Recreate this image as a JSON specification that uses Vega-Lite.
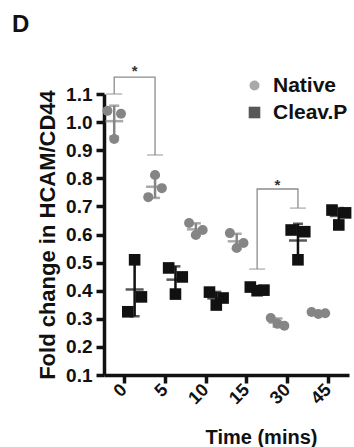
{
  "$schema": "https://vega.github.io/schema/vega-lite/v6.json",
  "width": 245,
  "height": 281,
  "autosize": {"type": "none"},
  "padding": {"left": 104, "top": 94, "right": 5, "bottom": 72},
  "background": "white",
  "title": {"text": "D", "anchor": "start", "frame": "group", "fontSize": 24, "font": "Liberation Sans", "fontWeight": "bold", "color": "#111111", "dx": -92, "offset": 8, "baseline": "alphabetic"},
  "config": {"view": {"stroke": null}, "font": "Liberation Sans"},
  "datasets": {
    "pts": [
      {"time": "0", "series": "Native", "rep": 1, "value": 1.04},
      {"time": "0", "series": "Native", "rep": 2, "value": 0.94},
      {"time": "0", "series": "Native", "rep": 3, "value": 1.03},
      {"time": "5", "series": "Native", "rep": 1, "value": 0.733},
      {"time": "5", "series": "Native", "rep": 2, "value": 0.812},
      {"time": "5", "series": "Native", "rep": 3, "value": 0.765},
      {"time": "10", "series": "Native", "rep": 1, "value": 0.641},
      {"time": "10", "series": "Native", "rep": 2, "value": 0.598},
      {"time": "10", "series": "Native", "rep": 3, "value": 0.616},
      {"time": "15", "series": "Native", "rep": 1, "value": 0.605},
      {"time": "15", "series": "Native", "rep": 2, "value": 0.552},
      {"time": "15", "series": "Native", "rep": 3, "value": 0.57},
      {"time": "30", "series": "Native", "rep": 1, "value": 0.303},
      {"time": "30", "series": "Native", "rep": 2, "value": 0.282},
      {"time": "30", "series": "Native", "rep": 3, "value": 0.275},
      {"time": "45", "series": "Native", "rep": 1, "value": 0.324},
      {"time": "45", "series": "Native", "rep": 2, "value": 0.317},
      {"time": "45", "series": "Native", "rep": 3, "value": 0.32},
      {"time": "0", "series": "Cleav.P", "rep": 1, "value": 0.325},
      {"time": "0", "series": "Cleav.P", "rep": 2, "value": 0.51},
      {"time": "0", "series": "Cleav.P", "rep": 3, "value": 0.378},
      {"time": "5", "series": "Cleav.P", "rep": 1, "value": 0.481},
      {"time": "5", "series": "Cleav.P", "rep": 2, "value": 0.388},
      {"time": "5", "series": "Cleav.P", "rep": 3, "value": 0.449},
      {"time": "10", "series": "Cleav.P", "rep": 1, "value": 0.395},
      {"time": "10", "series": "Cleav.P", "rep": 2, "value": 0.349},
      {"time": "10", "series": "Cleav.P", "rep": 3, "value": 0.374},
      {"time": "15", "series": "Cleav.P", "rep": 1, "value": 0.413},
      {"time": "15", "series": "Cleav.P", "rep": 2, "value": 0.4},
      {"time": "15", "series": "Cleav.P", "rep": 3, "value": 0.402},
      {"time": "30", "series": "Cleav.P", "rep": 1, "value": 0.616},
      {"time": "30", "series": "Cleav.P", "rep": 2, "value": 0.51},
      {"time": "30", "series": "Cleav.P", "rep": 3, "value": 0.61},
      {"time": "45", "series": "Cleav.P", "rep": 1, "value": 0.687},
      {"time": "45", "series": "Cleav.P", "rep": 2, "value": 0.634},
      {"time": "45", "series": "Cleav.P", "rep": 3, "value": 0.677}
    ],
    "brackets": [
      {"b": 1, "o": 1, "time": "0", "series": "Native", "y": 1.1},
      {"b": 1, "o": 2, "time": "0", "series": "Native", "y": 1.16},
      {"b": 1, "o": 3, "time": "5", "series": "Native", "y": 1.16},
      {"b": 1, "o": 4, "time": "5", "series": "Native", "y": 0.883},
      {"b": 2, "o": 1, "time": "15", "series": "Cleav.P", "y": 0.477},
      {"b": 2, "o": 2, "time": "15", "series": "Cleav.P", "y": 0.762},
      {"b": 2, "o": 3, "time": "30", "series": "Cleav.P", "y": 0.762},
      {"b": 2, "o": 4, "time": "30", "series": "Cleav.P", "y": 0.694}
    ],
    "stars": [
      {"time": "0", "series": "Cleav.P", "y": 1.196, "label": "*"},
      {"time": "30", "series": "Native", "y": 0.79, "label": "*"}
    ]
  },
  "data": {"name": "pts"},
  "encoding": {
    "x": {
      "field": "time", "type": "nominal", "sort": null,
      "scale": {"domain": ["0", "5", "10", "15", "30", "45"], "paddingInner": 0, "paddingOuter": 0},
      "axis": {
        "title": "Time (mins)", "titleFont": "Liberation Sans", "titleFontSize": 20, "titleFontWeight": "bold", "titleColor": "#111111",
        "titleX": 157, "titleY": 68, "titleAlign": "center", "titleBaseline": "alphabetic",
        "labelAngle": -45, "labelAlign": "right", "labelBaseline": "middle", "labelFont": "Liberation Sans", "labelFontSize": 18, "labelFontWeight": "bold", "labelColor": "#111111", "labelPadding": 4,
        "domainColor": "#111111", "domainWidth": 3.5, "tickColor": "#111111", "tickWidth": 3.5, "tickSize": 8, "grid": false
      }
    },
    "y": {
      "type": "quantitative",
      "scale": {"domain": [0.1, 1.1], "nice": false, "zero": false},
      "axis": {
        "title": "Fold change in HCAM/CD44", "titleFont": "Liberation Sans", "titleFontSize": 22, "titleFontWeight": "bold", "titleColor": "#111111",
        "titleX": -50, "titleY": 140.5, "titleAngle": 270, "titleAlign": "center", "titleBaseline": "alphabetic",
        "values": [0.1, 0.2, 0.3, 0.4, 0.5, 0.6, 0.7, 0.8, 0.9, 1.0, 1.1], "format": ".1f",
        "labelFont": "Liberation Sans", "labelFontSize": 19, "labelFontWeight": "bold", "labelColor": "#111111", "labelPadding": 4,
        "domainColor": "#111111", "domainWidth": 3.5, "tickColor": "#111111", "tickWidth": 3.5, "tickSize": 8, "grid": false
      }
    }
  },
  "layer": [
    {
      "transform": [
        {"aggregate": [{"op": "mean", "field": "value", "as": "mean"}, {"op": "stdev", "field": "value", "as": "sd"}], "groupby": ["time", "series"]},
        {"calculate": "datum.mean - datum.sd", "as": "lo"},
        {"calculate": "datum.mean + datum.sd", "as": "hi"}
      ],
      "layer": [
        {"mark": {"type": "rule", "strokeWidth": 2.5},
         "encoding": {"xOffset": {"field": "series", "scale": {"domain": ["Native", "Cleav.P"]}}, "y": {"field": "lo", "type": "quantitative"}, "y2": {"field": "hi"},
          "color": {"field": "series", "type": "nominal"}}},
        {"mark": {"type": "tick", "size": 18, "thickness": 2.5},
         "encoding": {"xOffset": {"field": "series", "scale": {"domain": ["Native", "Cleav.P"]}}, "y": {"field": "mean", "type": "quantitative"},
          "color": {"field": "series", "type": "nominal"}}},
        {"mark": {"type": "tick", "size": 10, "thickness": 2.5},
         "encoding": {"xOffset": {"field": "series", "scale": {"domain": ["Native", "Cleav.P"]}}, "y": {"field": "lo", "type": "quantitative"},
          "color": {"field": "series", "type": "nominal"}}},
        {"mark": {"type": "tick", "size": 10, "thickness": 2.5},
         "encoding": {"xOffset": {"field": "series", "scale": {"domain": ["Native", "Cleav.P"]}}, "y": {"field": "hi", "type": "quantitative"},
          "color": {"field": "series", "type": "nominal"}}}
      ],
      "resolve": {"scale": {"xOffset": "independent"}}
    },
    {
      "transform": [{"calculate": "datum.series + datum.rep", "as": "sid"}],
      "mark": {"type": "point", "filled": true, "opacity": 1, "clip": false},
      "encoding": {
        "xOffset": {"field": "sid", "scale": {"domain": ["Native1", "Native2", "Native3", "Cleav.P1", "Cleav.P2", "Cleav.P3"]}},
        "y": {"field": "value", "type": "quantitative"},
        "color": {"field": "series", "type": "nominal", "scale": {"domain": ["Native", "Cleav.P"], "range": ["#858585", "#111111"]},
          "legend": {"title": null, "orient": "none", "legendX": 140, "legendY": -19, "padding": 0, "labelFont": "Liberation Sans", "labelFontSize": 21, "labelFontWeight": "bold", "labelColor": "#111111", "labelOffset": 8, "rowPadding": 5, "symbolSize": 85, "symbolStrokeWidth": 0, "symbolOpacity": 1}},
        "shape": {"field": "series", "type": "nominal", "scale": {"domain": ["Native", "Cleav.P"], "range": ["circle", "square"]},
          "legend": {"title": null, "orient": "none", "legendX": 140, "legendY": -19, "padding": 0, "labelFont": "Liberation Sans", "labelFontSize": 21, "labelFontWeight": "bold", "labelColor": "#111111", "labelOffset": 8, "rowPadding": 5, "symbolSize": 85, "symbolStrokeWidth": 0, "symbolOpacity": 1}},
        "size": {"field": "series", "type": "nominal", "scale": {"domain": ["Native", "Cleav.P"], "range": [100, 135]}, "legend": null}
      }
    },
    {
      "data": {"name": "brackets"},
      "mark": {"type": "line", "color": "#8c8c8c", "strokeWidth": 1.3, "clip": false},
      "encoding": {
        "xOffset": {"field": "series", "scale": {"domain": ["Native", "Cleav.P"]}},
        "y": {"field": "y", "type": "quantitative"},
        "detail": {"field": "b"},
        "order": {"field": "o"}
      }
    },
    {
      "data": {"name": "brackets"},
      "transform": [{"filter": "datum.o == 1 || datum.o == 4"}],
      "mark": {"type": "tick", "color": "#8c8c8c", "size": 16, "thickness": 1.3, "clip": false},
      "encoding": {
        "xOffset": {"field": "series", "scale": {"domain": ["Native", "Cleav.P"]}},
        "y": {"field": "y", "type": "quantitative"}
      }
    },
    {
      "data": {"name": "stars"},
      "mark": {"type": "text", "font": "Liberation Sans", "fontSize": 15, "fontWeight": "bold", "color": "#333333", "baseline": "middle", "dy": 4, "clip": false},
      "encoding": {
        "xOffset": {"field": "series", "scale": {"domain": ["Native", "Cleav.P"]}},
        "y": {"field": "y", "type": "quantitative"},
        "text": {"field": "label"}
      }
    }
  ],
  "resolve": {"scale": {"xOffset": "independent"}}
}
